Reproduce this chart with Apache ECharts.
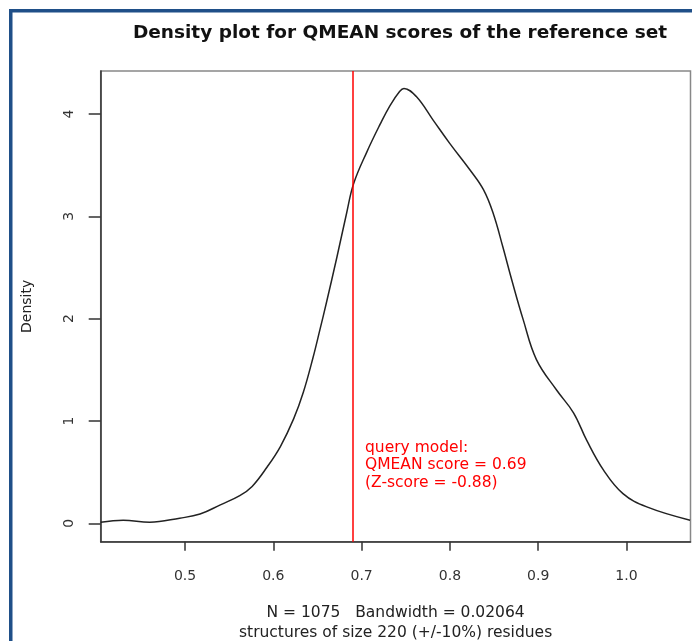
<!DOCTYPE html>
<html>
<head>
<meta charset="utf-8">
<script src="https://cdn.jsdelivr.net/npm/echarts@6/dist/echarts.min.js"></script>
<style>
  html, body { margin: 0; padding: 0; background: #fff; }
  #chart { width: 692px; height: 641px; }
</style>
</head>
<body>
<div id="chart"></div>
<script>
// density curve (score, density)
var scores = [0.4045, 0.430, 0.460, 0.494, 0.517, 0.540, 0.562, 0.576, 0.593, 0.608, 0.623, 0.634, 0.645, 0.653, 0.660,
  0.672, 0.683, 0.691, 0.706, 0.721, 0.732, 0.743, 0.748, 0.762, 0.781, 0.800, 0.823, 0.838, 0.849, 0.860,
  0.870, 0.883, 0.898, 0.921, 0.940, 0.955, 0.974, 0.996, 1.023, 1.072];
var density = [0.01, 0.03, 0.01, 0.05, 0.09, 0.18, 0.27, 0.36, 0.55, 0.75, 1.02, 1.28, 1.62, 1.90, 2.15,
  2.60, 3.03, 3.32, 3.63, 3.90, 4.08, 4.22, 4.25, 4.17, 3.94, 3.71, 3.45, 3.26, 3.03, 2.70,
  2.38, 1.99, 1.60, 1.30, 1.08, 0.81, 0.52, 0.29, 0.16, 0.03];
var xTicks = [0.5, 0.6, 0.7, 0.8, 0.9, 1.0];
var yTicks = [0, 1, 2, 3, 4];
var queryScore = 0.69;
var queryText = ['query model:', 'QMEAN score = 0.69', '(Z-score = -0.88)'];

var font = '"DejaVu Sans", Verdana, sans-serif';
var curve = scores.map(function (s, i) { return [s, density[i]]; });

var chart = echarts.init(document.getElementById('chart'));
var option = {
  backgroundColor: '#fff',
  animation: false,
  title: {
    text: 'Density plot for QMEAN scores of the reference set',
    left: 395, top: 19, textAlign: 'center',
    textStyle: { fontFamily: font, fontSize: 18.5, fontWeight: 'bold', color: '#111' }
  },
  grid: {
    left: 100.7, top: 71, right: 1.5, bottom: 99.3,
    outerBoundsMode: 'none',
    show: true, borderColor: '#888', borderWidth: 1.5, backgroundColor: 'transparent'
  },
  xAxis: {
    type: 'value', min: 0.4045, max: 1.0725,
    name: 'N = 1075   Bandwidth = 0.02064\nstructures of size 220 (+/-10%) residues',
    nameLocation: 'middle', nameGap: 61,
    nameTextStyle: { fontFamily: font, fontSize: 15.5, color: '#222', lineHeight: 20 },
    axisLine: { onZero: false, lineStyle: { color: '#333', width: 1.5 } },
    axisTick: { customValues: xTicks, length: 9, lineStyle: { color: '#333', width: 1.5 } },
    axisLabel: {
      customValues: xTicks, margin: 28,
      fontFamily: font, fontSize: 14, color: '#333',
      formatter: function (v) { return v.toFixed(1); }
    },
    splitLine: { show: false }
  },
  yAxis: {
    type: 'value', min: -0.18, max: 4.42,
    name: 'Density', nameLocation: 'middle', nameGap: 66,
    nameTextStyle: { fontFamily: font, fontSize: 14, color: '#222' },
    axisLine: { show: true, lineStyle: { color: '#333', width: 1.5 } },
    axisTick: { customValues: yTicks, length: 12, lineStyle: { color: '#333', width: 1.5 } },
    axisLabel: {
      customValues: yTicks, rotate: 90, margin: 24,
      fontFamily: font, fontSize: 14, color: '#333'
    },
    splitLine: { show: false }
  },
  series: [{
    type: 'line',
    data: curve,
    smooth: 0.4,
    showSymbol: false,
    lineStyle: { color: '#222', width: 1.5 },
    markLine: {
      silent: true,
      symbol: 'none',
      label: { show: false },
      lineStyle: { color: '#ff0000', width: 1.5, type: 'solid' },
      data: [{ xAxis: queryScore }]
    }
  }],
  graphic: [
    // blue page frame
    { type: 'rect', shape: { x: 9, y: 9, width: 683, height: 3.5 }, style: { fill: '#1f4f88' } },
    { type: 'rect', shape: { x: 9, y: 9, width: 3.5, height: 632 }, style: { fill: '#1f4f88' } },
    {
      type: 'text', left: 365, top: 439,
      style: { text: queryText.join('\n'), fill: '#ff0000', font: '15.5px ' + font, lineHeight: 17.5 }
    }
  ]
};
chart.setOption(option);
</script>
</body>
</html>
